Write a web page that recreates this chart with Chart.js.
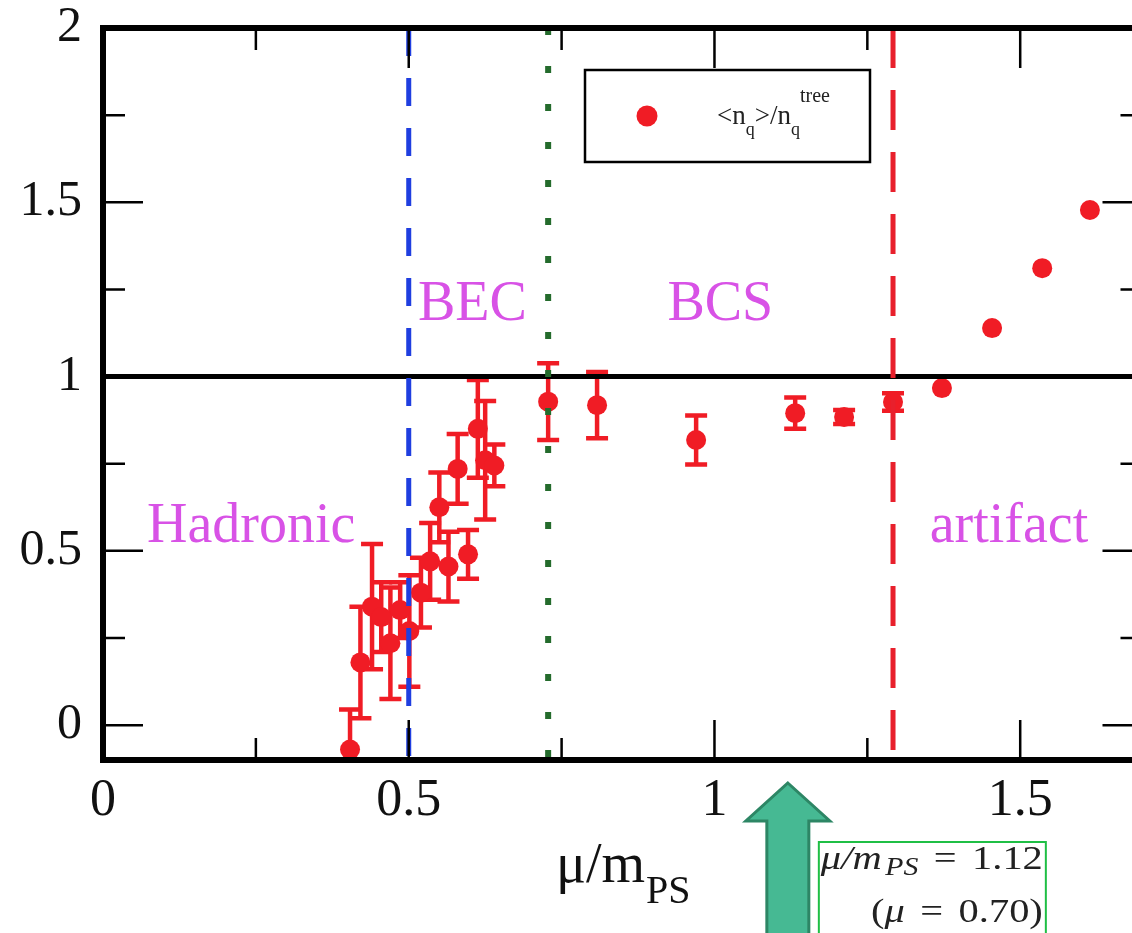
<!DOCTYPE html>
<html>
<head>
<meta charset="utf-8">
<script src="https://cdn.jsdelivr.net/npm/chart.js@4/dist/chart.umd.min.js"></script>
<style>
  html, body { margin: 0; padding: 0; background: #ffffff; overflow: hidden; }
  #wrap { position: absolute; left: 0; top: 0; width: 1160px; height: 933px; }
</style>
</head>
<body>
<div id="wrap"><canvas id="c" width="1160" height="933"></canvas></div>
<script>
// mu / m_PS of each ensemble
const muOverM = [0.404, 0.421, 0.440, 0.455, 0.470, 0.486, 0.501, 0.520, 0.535, 0.550,
                 0.565, 0.580, 0.597, 0.613, 0.625, 0.640, 0.728, 0.808, 0.970, 1.132,
                 1.212, 1.292, 1.372, 1.454, 1.536, 1.614];
// quark number density normalised by its free (tree-level) value
const nqRatio = [-0.07, 0.18, 0.34, 0.31, 0.235, 0.33, 0.27, 0.38, 0.47, 0.625,
                 0.455, 0.735, 0.49, 0.85, 0.76, 0.745, 0.928, 0.918, 0.818, 0.895,
                 0.884, 0.927, 0.967, 1.139, 1.311, 1.478];
// statistical errors
const nqErr   = [0.115, 0.16, 0.18, 0.10, 0.16, 0.08, 0.16, 0.10, 0.11, 0.10,
                 0.10, 0.10, 0.07, 0.14, 0.17, 0.06, 0.11, 0.095, 0.07, 0.045,
                 0.02, 0.025, 0, 0, 0, 0];

const xMajorTicks = [0, 0.5, 1, 1.5];
const xMinorTicks = [0.25, 0.75, 1.25];
const yMajorTicks = [0, 0.5, 1, 1.5, 2];
const yMinorTicks = [0.25, 0.75, 1.25, 1.75];

// phase boundaries in mu/m_PS: onset of BEC, onset of BCS, lattice artifacts
const becOnset = 0.5;
const bcsOnset = 0.728;
const artifactOnset = 1.292;
const regionNames = ['Hadronic', 'BEC', 'BCS', 'artifact'];

// highlighted ensemble
const markedRatio = 1.12;
const markedMu = 0.70;

const SERIF = '"Liberation Serif", "DejaVu Serif", serif';
const RED = '#f01c25';

function fmt(v) { return String(v); }

const framePlugin = {
  id: 'frame',
  beforeDatasetsDraw(chart) {
    const { ctx, chartArea: a, scales: { x, y } } = chart;
    // error bars
    ctx.save();
    ctx.beginPath();
    ctx.rect(a.left, a.top, a.right - a.left, a.bottom - a.top);
    ctx.clip();
    ctx.strokeStyle = RED;
    ctx.lineWidth = 4.5;
    for (let i = 0; i < muOverM.length; i++) {
      if (!nqErr[i]) continue;
      const px = x.getPixelForValue(muOverM[i]);
      const y1 = y.getPixelForValue(nqRatio[i] + nqErr[i]);
      const y2 = y.getPixelForValue(nqRatio[i] - nqErr[i]);
      ctx.beginPath();
      ctx.moveTo(px, y1); ctx.lineTo(px, y2);
      ctx.moveTo(px - 11, y1); ctx.lineTo(px + 11, y1);
      ctx.moveTo(px - 11, y2); ctx.lineTo(px + 11, y2);
      ctx.stroke();
    }
    ctx.restore();
  },
  afterDatasetsDraw(chart) {
    const { ctx, chartArea: a, scales: { x, y } } = chart;
    ctx.save();

    // region names
    ctx.fillStyle = '#d852e6';
    ctx.font = '56px ' + SERIF;
    ctx.textBaseline = 'alphabetic';
    ctx.textAlign = 'left';
    ctx.fillText(regionNames[0], x.getPixelForValue(0.072), y.getPixelForValue(0.525));
    ctx.fillText(regionNames[1], x.getPixelForValue(0.515), y.getPixelForValue(1.162));
    ctx.fillText(regionNames[2], x.getPixelForValue(0.923), y.getPixelForValue(1.162));
    ctx.fillText(regionNames[3], x.getPixelForValue(1.352), y.getPixelForValue(0.525));

    // horizontal reference at 1
    ctx.strokeStyle = '#000';
    ctx.lineWidth = 5;
    ctx.beginPath();
    ctx.moveTo(a.left, y.getPixelForValue(1));
    ctx.lineTo(a.right, y.getPixelForValue(1));
    ctx.stroke();

    // phase boundaries
    const vline = (v, color, dash, w) => {
      const px = x.getPixelForValue(v);
      ctx.strokeStyle = color;
      ctx.lineWidth = w;
      ctx.setLineDash(dash);
      ctx.beginPath();
      ctx.moveTo(px, a.top);
      ctx.lineTo(px, a.bottom);
      ctx.stroke();
    };
    vline(becOnset, '#1f3ee0', [28, 22], 5);
    vline(bcsOnset, '#246b2c', [7, 31], 6);
    vline(artifactOnset, '#e8202c', [40, 22], 5);
    ctx.setLineDash([]);

    // frame
    ctx.strokeStyle = '#000';
    ctx.lineWidth = 6;
    ctx.strokeRect(a.left, a.top, a.right - a.left, a.bottom - a.top);

    // inward ticks on all four sides
    ctx.lineWidth = 2.5;
    const tickX = (v, len) => {
      const px = x.getPixelForValue(v);
      ctx.beginPath();
      ctx.moveTo(px, a.bottom); ctx.lineTo(px, a.bottom - len);
      ctx.moveTo(px, a.top); ctx.lineTo(px, a.top + len);
      ctx.stroke();
    };
    const tickY = (v, len) => {
      const py = y.getPixelForValue(v);
      ctx.beginPath();
      ctx.moveTo(a.left, py); ctx.lineTo(a.left + len, py);
      ctx.moveTo(a.right, py); ctx.lineTo(a.right - len, py);
      ctx.stroke();
    };
    xMajorTicks.forEach(v => tickX(v, 40));
    xMinorTicks.forEach(v => tickX(v, 22));
    yMajorTicks.forEach(v => tickY(v, 40));
    yMinorTicks.forEach(v => tickY(v, 22));

    // legend
    const lx = a.left + 482, ly = a.top + 42, lw = 285, lh = 92;
    ctx.fillStyle = '#fff';
    ctx.fillRect(lx, ly, lw, lh);
    ctx.strokeStyle = '#000';
    ctx.lineWidth = 2.5;
    ctx.strokeRect(lx, ly, lw, lh);
    ctx.fillStyle = RED;
    ctx.beginPath();
    ctx.arc(lx + 62, ly + 46, 10.5, 0, Math.PI * 2);
    ctx.fill();
    ctx.fillStyle = '#222';
    ctx.textAlign = 'left';
    let tx = lx + 132;
    const base = ly + 54;
    const put = (s, size, dy) => {
      ctx.font = size + 'px ' + SERIF;
      ctx.fillText(s, tx, base + dy);
      tx += ctx.measureText(s).width;
    };
    put('<n', 27, 0); put('q', 18, 11); put('>/n', 27, 0);
    put('q', 18, 11); put('tree', 20, -22);

    // axis title  mu/m_PS
    ctx.fillStyle = '#111';
    ctx.font = '56px ' + SERIF;
    const main = 'μ/m';
    const mw = ctx.measureText(main).width;
    ctx.font = '40px ' + SERIF;
    const sw = ctx.measureText('PS').width;
    const ax = (a.left + a.right) / 2 - (mw + sw) / 2;
    ctx.font = '56px ' + SERIF;
    ctx.fillText(main, ax, 882);
    ctx.font = '40px ' + SERIF;
    ctx.fillText('PS', ax + mw + 1, 903);

    // arrow pointing at the highlighted ensemble
    const ax0 = x.getPixelForValue(markedRatio);
    const tipY = a.bottom + 23;
    ctx.fillStyle = '#46b993';
    ctx.strokeStyle = '#2d8665';
    ctx.lineWidth = 3;
    ctx.beginPath();
    ctx.moveTo(ax0, tipY);
    ctx.lineTo(ax0 + 42, tipY + 38);
    ctx.lineTo(ax0 + 21, tipY + 38);
    ctx.lineTo(ax0 + 21, 940);
    ctx.lineTo(ax0 - 21, 940);
    ctx.lineTo(ax0 - 21, tipY + 38);
    ctx.lineTo(ax0 - 42, tipY + 38);
    ctx.closePath();
    ctx.fill();
    ctx.stroke();

    // caption box
    const bx = ax0 + 31, by = 842, bw = 227;
    ctx.strokeStyle = '#1fbf45';
    ctx.lineWidth = 2;
    ctx.strokeRect(bx, by, bw, 120);
    const rx = bx + bw - 3;
    ctx.fillStyle = '#222';
    const segs1 = [
      ['italic 34px ' + SERIF, 'μ/m', 0, 0],
      ['italic 25px ' + SERIF, 'PS', 6, 3],
      ['34px ' + SERIF, '=', 0, 13],
      ['34px ' + SERIF, markedRatio.toFixed(2), 0, 13]
    ];
    const segs2 = [
      ['34px ' + SERIF, '(', 0, 0],
      ['italic 34px ' + SERIF, 'μ', 0, 0],
      ['34px ' + SERIF, '=', 0, 13],
      ['34px ' + SERIF, markedMu.toFixed(2) + ')', 0, 13]
    ];
    const widthOf = segs => segs.reduce((t, s) => { ctx.font = s[0]; return t + s[3] + ctx.measureText(s[1]).width; }, 0);
    const stretch = (bw - 5) / widthOf(segs1);
    const drawRight = (segs, baseY) => {
      const total = widthOf(segs) * stretch;
      ctx.save();
      ctx.translate(rx - total, baseY);
      ctx.scale(stretch, 1);
      let cx = 0;
      segs.forEach(s => {
        ctx.font = s[0];
        cx += s[3];
        ctx.fillText(s[1], cx, s[2]);
        cx += ctx.measureText(s[1]).width;
      });
      ctx.restore();
    };
    drawRight(segs1, 869);
    drawRight(segs2, 922);

    ctx.restore();
  }
};

new Chart(document.getElementById('c'), {
  type: 'scatter',
  data: {
    datasets: [{
      label: '<nq>/nq^tree',
      data: muOverM.map((v, i) => ({ x: v, y: nqRatio[i] })),
      backgroundColor: RED,
      borderWidth: 0,
      pointRadius: 10,
      pointHoverRadius: 10
    }]
  },
  options: {
    responsive: false,
    animation: false,
    events: [],
    layout: { padding: { left: 0, top: 28, right: 17.5, bottom: 0 } },
    plugins: { legend: { display: false }, tooltip: { enabled: false } },
    scales: {
      x: {
        type: 'linear', min: 0, max: 1.7,
        afterBuildTicks: s => { s.ticks = xMajorTicks.map(v => ({ value: v })); },
        afterFit: s => { s.height = 173; s.paddingLeft = 0; s.paddingRight = 0; },
        grid: { display: false, drawTicks: false },
        border: { display: false },
        ticks: { font: { family: SERIF, size: 52 }, color: '#111', padding: 10, maxRotation: 0, callback: v => fmt(v) }
      },
      y: {
        type: 'linear', min: -0.1, max: 2,
        afterBuildTicks: s => { s.ticks = yMajorTicks.map(v => ({ value: v })); },
        afterFit: s => { s.width = 103; s.paddingTop = 0; s.paddingBottom = 0; },
        grid: { display: false, drawTicks: false },
        border: { display: false },
        ticks: { font: { family: SERIF, size: 50 }, color: '#111', padding: 21, callback: v => fmt(v) }
      }
    }
  },
  plugins: [framePlugin]
});
</script>
</body>
</html>
